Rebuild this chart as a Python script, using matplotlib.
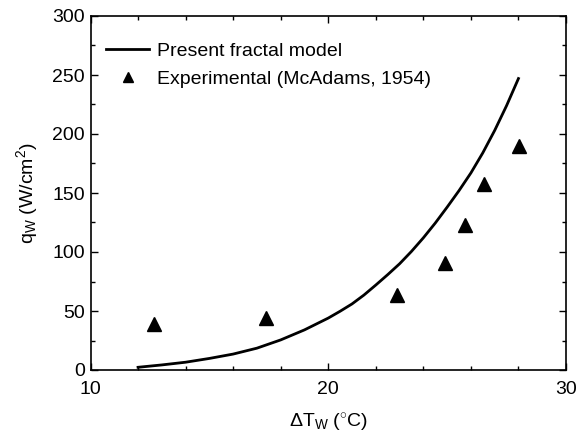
import matplotlib
matplotlib.use("Agg")
import matplotlib.pyplot as plt
from matplotlib.ticker import MultipleLocator

plt.rcParams['font.family'] = ['Liberation Sans', 'DejaVu Sans']
plt.rcParams['mathtext.fontset'] = 'custom'
plt.rcParams['mathtext.rm'] = 'Liberation Sans'
plt.rcParams['mathtext.it'] = 'Liberation Sans:italic'

# modelo fractal (curva)
dt_modelo = [12, 13, 14, 15, 16, 17, 18, 19, 20, 20.5, 21, 21.5, 22, 22.5, 23,
             23.5, 24, 24.5, 25, 25.5, 26, 26.5, 27, 27.5, 28]
q_modelo = [2.3, 4.3, 6.6, 9.8, 13.5, 18.5, 25.5, 34, 44, 49.8, 56, 63.5, 72, 80.8, 90,
            100.5, 112, 124.5, 138, 152, 167, 184, 203, 224, 247]

# dados experimentais (McAdams, 1954)
dt_exp = [12.67, 17.37, 22.9, 24.92, 25.77, 26.53, 28.04]
q_exp = [39, 44, 63.5, 90.5, 122.5, 157.5, 189.5]

fig = plt.figure(figsize=(5.76, 4.37), dpi=100)
ax = fig.add_axes([90.5/576, 1 - 370/437, (566-90.5)/576, (370-16)/437])

ax.plot(dt_modelo, q_modelo, color='black', lw=2, label='Present fractal model')
ax.plot(dt_exp, q_exp, ls='none', marker='^', ms=10, color='black',
        label='Experimental (McAdams, 1954)')

ax.set_xlim(10, 30)
ax.set_ylim(0, 300)
ax.xaxis.set_major_locator(MultipleLocator(10))
ax.xaxis.set_minor_locator(MultipleLocator(2))
ax.yaxis.set_major_locator(MultipleLocator(50))
ax.yaxis.set_minor_locator(MultipleLocator(25))
ax.tick_params(which='both', direction='in', top=True, right=True, labelsize=14, width=1)
ax.tick_params(which='major', length=5, pad=4)
ax.tick_params(which='minor', length=3)
ax.tick_params(axis='x', which='major', pad=8)
for s in ax.spines.values():
    s.set_linewidth(1.2)

ax.set_xlabel(r'$\Delta$T$_{\rm W}$ ($^{\circ}$C)', fontsize=14, labelpad=10)
ax.set_ylabel(r'q$_{\rm W}$ (W/cm$^{2}$)', fontsize=14, labelpad=9)

ax.legend(loc='upper left', frameon=False, fontsize=14, markerscale=0.7,
          handlelength=2.2, handletextpad=0.4, labelspacing=0.55,
          borderaxespad=0.3, bbox_to_anchor=(0.005, 0.965))

fig.savefig('out.png', dpi=100)
